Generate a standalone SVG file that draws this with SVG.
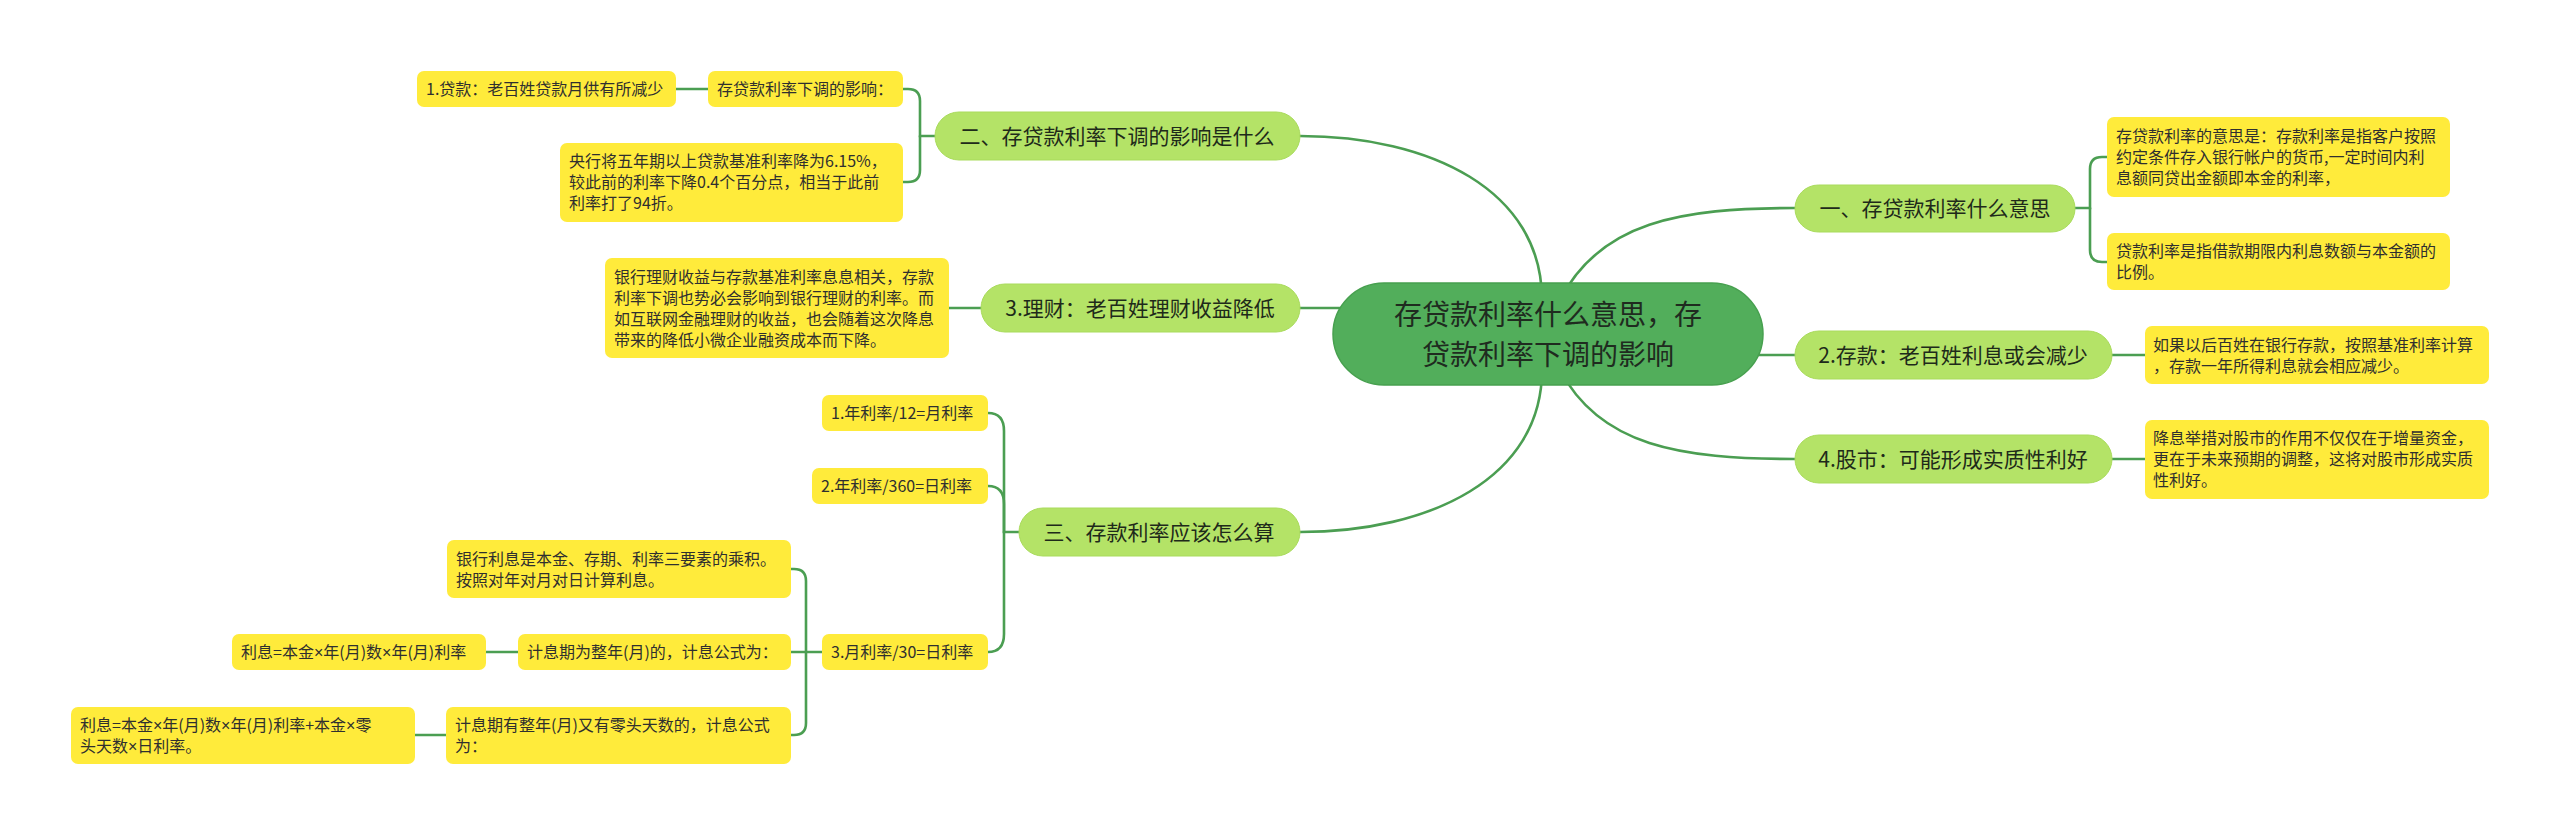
<svg xmlns="http://www.w3.org/2000/svg" width="2560" height="835" viewBox="0 0 2560 835">
<style>
.bg{fill:#ffffff}
.conn path,.conn line{fill:none;stroke:#4b9e52;stroke-width:2.6;stroke-linecap:round}
.root rect{fill:#52ae5b;stroke:#47a04f;stroke-width:1.5}
.root text{font-family:"Noto Sans CJK SC","Noto Sans",sans-serif;font-size:28px;fill:#1f2b1f;text-anchor:middle}
.br rect{fill:#b4e367;stroke:#a9db5c;stroke-width:1}
.br text{font-family:"Noto Sans CJK SC","Noto Sans",sans-serif;font-size:21px;fill:#1e2a1a;text-anchor:middle}
.lf rect{fill:#ffeb3b}
.lf text{font-family:"Noto Sans CJK SC","Noto Sans",sans-serif;font-size:16px;fill:#2f2f2f}
.x{font-family:"Liberation Sans","Noto Sans",sans-serif}
</style>
<rect class="bg" x="0" y="0" width="2560" height="835"/>
<g class="conn" id="connectors">
<path d="M1542,300 C1542,190 1430,136 1300,136"/>
<path d="M1560,300 C1600,222 1680,208 1795,208"/>
<path d="M1542,370 C1542,478 1430,532 1300,532"/>
<path d="M1560,370 C1600,446 1680,459 1795,459"/>
<path d="M1350,308 L1300,308"/>
<path d="M1745,355 L1795,355"/>
<path d="M2075,208 H2090 V169 Q2090,157 2102,157 H2107"/>
<path d="M2090,208 V250 Q2090,262 2102,262 H2107"/>
<path d="M2112,355 H2145"/>
<path d="M2112,459 H2145"/>
<path d="M935,136 H920 V101 Q920,89 908,89 H903"/>
<path d="M920,136 V170 Q920,182 908,182 H903"/>
<path d="M708,89 H676"/>
<path d="M981,308 H949"/>
<path d="M1019,532 H1004 V431 Q1004,413 988,413"/>
<path d="M1004,532 V504 Q1004,486 988,486"/>
<path d="M1004,532 V634 Q1004,652 988,652"/>
<path d="M822,652 H791"/>
<path d="M806,652 V581 Q806,569 794,569 H791"/>
<path d="M806,652 V723 Q806,735 794,735 H791"/>
<path d="M518,652 H486"/>
<path d="M446,735 H415"/>
</g>

<g id="root" class="root">
<rect x="1333" y="283" width="430" height="102" rx="51"/>
<text x="1548" y="325">存贷款利率什么意思，存</text>
<text x="1548" y="365">贷款利率下调的影响</text>
</g>

<g id="b1" class="br"><rect x="1795" y="185" width="280" height="47" rx="23.5"/><text x="1935" y="216">一、存贷款利率什么意思</text></g>
<g id="b2" class="br"><rect x="1795" y="331" width="317" height="48" rx="24"/><text x="1953" y="362.5">2.存款：老百姓利息或会减少</text></g>
<g id="b3" class="br"><rect x="1795" y="435" width="317" height="48" rx="24"/><text x="1953" y="466.5">4.股市：可能形成实质性利好</text></g>
<g id="l1" class="br"><rect x="935" y="112" width="365" height="48" rx="24"/><text x="1117" y="143.5">二、存贷款利率下调的影响是什么</text></g>
<g id="l2" class="br"><rect x="981" y="284" width="319" height="48" rx="24"/><text x="1140" y="315.5">3.理财：老百姓理财收益降低</text></g>
<g id="l3" class="br"><rect x="1019" y="508" width="281" height="48" rx="24"/><text x="1159" y="539.5">三、存款利率应该怎么算</text></g>

<g id="r1a" class="lf"><rect x="2107" y="117" width="343" height="80" rx="7"/>
<text x="2116" y="142">存贷款利率的意思是：存款利率是指客户按照</text>
<text x="2116" y="163">约定条件存入银行帐户的货币,一定时间内利</text>
<text x="2116" y="184">息额同贷出金额即本金的利率，</text></g>
<g id="r1b" class="lf"><rect x="2107" y="233" width="343" height="57" rx="7"/>
<text x="2116" y="257">贷款利率是指借款期限内利息数额与本金额的</text>
<text x="2116" y="278">比例。</text></g>
<g id="r2" class="lf"><rect x="2145" y="326" width="344" height="58" rx="7"/>
<text x="2153" y="350.5">如果以后百姓在银行存款，按照基准利率计算</text>
<text x="2153" y="371.5">，存款一年所得利息就会相应减少。</text></g>
<g id="r3" class="lf"><rect x="2145" y="420" width="344" height="79" rx="7"/>
<text x="2153" y="444">降息举措对股市的作用不仅仅在于增量资金，</text>
<text x="2153" y="465">更在于未来预期的调整，这将对股市形成实质</text>
<text x="2153" y="486">性利好。</text></g>

<g id="l1a" class="lf"><rect x="708" y="71" width="195" height="36" rx="7"/><text x="717" y="95">存贷款利率下调的影响：</text></g>
<g id="l1a1" class="lf"><rect x="417" y="71" width="259" height="36" rx="7"/><text x="426" y="95">1.贷款：老百姓贷款月供有所减少</text></g>
<g id="l1b" class="lf"><rect x="560" y="143" width="343" height="79" rx="7"/>
<text x="569" y="167">央行将五年期以上贷款基准利率降为6.15%，</text>
<text x="569" y="188">较此前的利率下降0.4个百分点，相当于此前</text>
<text x="569" y="209">利率打了94折。</text></g>
<g id="l2a" class="lf"><rect x="605" y="258" width="344" height="100" rx="7"/>
<text x="614" y="282.5">银行理财收益与存款基准利率息息相关，存款</text>
<text x="614" y="303.5">利率下调也势必会影响到银行理财的利率。而</text>
<text x="614" y="324.5">如互联网金融理财的收益，也会随着这次降息</text>
<text x="614" y="345.5">带来的降低小微企业融资成本而下降。</text></g>
<g id="l3a" class="lf"><rect x="822" y="395" width="166" height="36" rx="7"/><text x="831" y="419">1.年利率/12=月利率</text></g>
<g id="l3b" class="lf"><rect x="812" y="468" width="176" height="36" rx="7"/><text x="821" y="492">2.年利率/360=日利率</text></g>
<g id="l3c" class="lf"><rect x="822" y="634" width="166" height="36" rx="7"/><text x="831" y="658">3.月利率/30=日利率</text></g>
<g id="l3c1" class="lf"><rect x="447" y="540" width="344" height="58" rx="7"/>
<text x="456" y="564.5">银行利息是本金、存期、利率三要素的乘积。</text>
<text x="456" y="585.5">按照对年对月对日计算利息。</text></g>
<g id="l3c2" class="lf"><rect x="518" y="634" width="273" height="36" rx="7"/><text x="527" y="658">计息期为整年(月)的，计息公式为：</text></g>
<g id="l3c2a" class="lf"><rect x="232" y="634" width="254" height="36" rx="7"/><text x="241" y="658">利息=本金<tspan class="x">×</tspan>年(月)数<tspan class="x">×</tspan>年(月)利率</text></g>
<g id="l3c3" class="lf"><rect x="446" y="707" width="345" height="57" rx="7"/>
<text x="455" y="731">计息期有整年(月)又有零头天数的，计息公式</text>
<text x="455" y="752">为：</text></g>
<g id="l3c3a" class="lf"><rect x="71" y="707" width="344" height="57" rx="7"/>
<text x="80" y="731">利息=本金<tspan class="x">×</tspan>年(月)数<tspan class="x">×</tspan>年(月)利率+本金<tspan class="x">×</tspan>零</text>
<text x="80" y="752">头天数<tspan class="x">×</tspan>日利率。</text></g>
</svg>
